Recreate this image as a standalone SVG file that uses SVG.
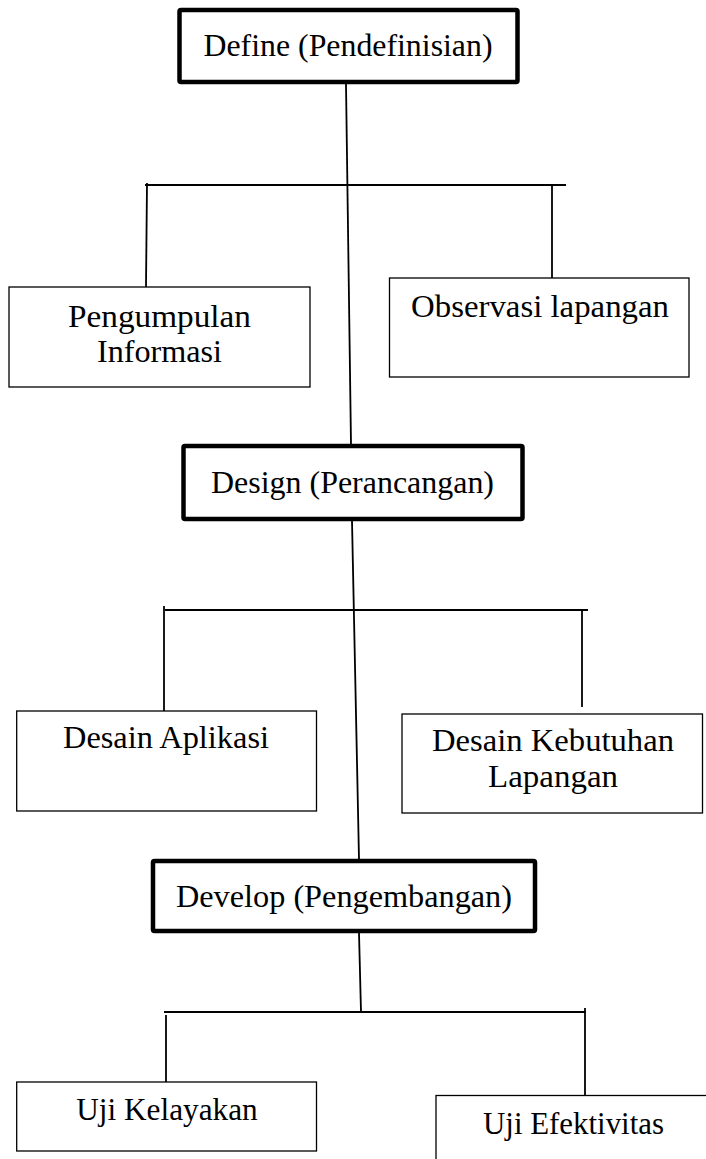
<svg xmlns="http://www.w3.org/2000/svg" width="706" height="1159" viewBox="0 0 706 1159">
<style>
  .main rect { fill: #fff; stroke: #000; stroke-width: 4.5; }
  .sub rect { fill: #fff; stroke: #000; stroke-width: 1.3; }
  text { font-family: "Liberation Serif", "Times New Roman", serif; font-size: 32px; fill: #000; text-anchor: middle; }
  #connectors line { stroke: #000; stroke-width: 1.8; }
</style>
<rect width="706" height="1159" fill="#fff"/>
<g id="connectors">
  <line x1="346" y1="84" x2="351" y2="444"/>
  <line x1="145" y1="185" x2="566" y2="185"/>
  <line x1="147" y1="183" x2="146" y2="287"/>
  <line x1="552" y1="185" x2="552" y2="278"/>
  <line x1="352" y1="521" x2="359" y2="859"/>
  <line x1="165" y1="610" x2="588" y2="610"/>
  <line x1="164" y1="606" x2="164" y2="711"/>
  <line x1="582" y1="610" x2="582" y2="707"/>
  <line x1="359" y1="933" x2="361" y2="1012"/>
  <line x1="164" y1="1012" x2="586" y2="1012"/>
  <line x1="166" y1="1015" x2="166" y2="1082"/>
  <line x1="585" y1="1008" x2="585" y2="1096"/>
</g>
<g id="define" class="main">
  <rect x="179.5" y="10" width="338" height="72" rx="1.5"/>
  <text x="348" y="56" textLength="289" lengthAdjust="spacingAndGlyphs">Define (Pendefinisian)</text>
</g>
<g id="pengumpulan" class="sub">
  <rect x="9" y="287" width="301" height="100"/>
  <text x="159.5" y="327" textLength="183" lengthAdjust="spacingAndGlyphs">Pengumpulan</text>
  <text x="159.5" y="362" textLength="125" lengthAdjust="spacingAndGlyphs">Informasi</text>
</g>
<g id="observasi" class="sub">
  <rect x="389.5" y="278" width="299.5" height="99"/>
  <text x="540" y="317" textLength="258" lengthAdjust="spacingAndGlyphs">Observasi lapangan</text>
</g>
<g id="design" class="main">
  <rect x="183.5" y="446" width="339" height="73" rx="1.5"/>
  <text x="352.5" y="493" textLength="283" lengthAdjust="spacingAndGlyphs">Design (Perancangan)</text>
</g>
<g id="desain-aplikasi" class="sub">
  <rect x="16.7" y="711" width="299.8" height="100"/>
  <text x="166" y="748" textLength="206" lengthAdjust="spacingAndGlyphs">Desain Aplikasi</text>
</g>
<g id="desain-kebutuhan" class="sub">
  <rect x="402" y="714" width="300.5" height="99"/>
  <text x="553" y="751" textLength="242" lengthAdjust="spacingAndGlyphs">Desain Kebutuhan</text>
  <text x="553" y="787" textLength="130" lengthAdjust="spacingAndGlyphs">Lapangan</text>
</g>
<g id="develop" class="main">
  <rect x="153" y="861" width="382" height="70" rx="1.5"/>
  <text x="344" y="907" textLength="336" lengthAdjust="spacingAndGlyphs">Develop (Pengembangan)</text>
</g>
<g id="uji-kelayakan" class="sub">
  <rect x="16.7" y="1082" width="299.8" height="69"/>
  <text x="167" y="1120" textLength="181.5" lengthAdjust="spacingAndGlyphs">Uji Kelayakan</text>
</g>
<g id="uji-efektivitas" class="sub">
  <rect x="436" y="1095.5" width="280" height="80"/>
  <text x="573.5" y="1134" textLength="181" lengthAdjust="spacingAndGlyphs">Uji Efektivitas</text>
</g>
</svg>
